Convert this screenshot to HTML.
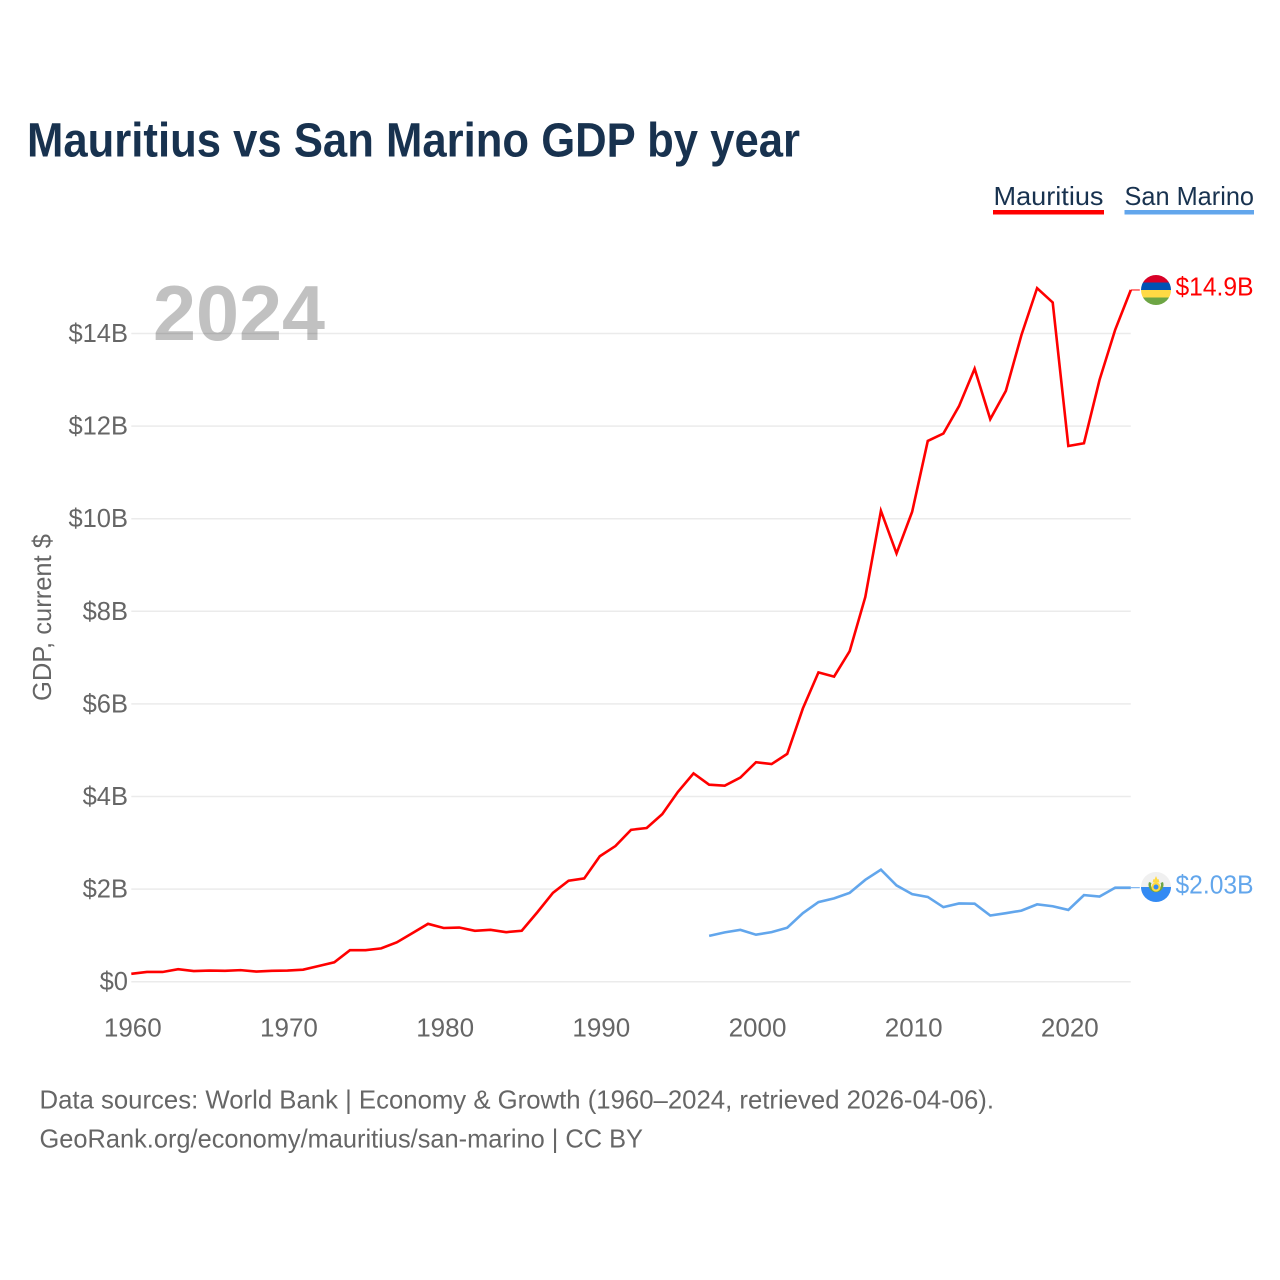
<!DOCTYPE html>
<html lang="en">
<head>
<meta charset="utf-8">
<title>Mauritius vs San Marino GDP by year</title>
<style>
html,body{margin:0;padding:0;background:#fff;width:1280px;height:1280px;overflow:hidden}
svg{display:block}
text{font-family:"Liberation Sans",sans-serif}
</style>
</head>
<body>
<svg id="chart" xmlns="http://www.w3.org/2000/svg" width="1280" height="1280" viewBox="0 0 1280 1280">
  <defs>
    <clipPath id="clip-mu"><circle cx="1156" cy="290" r="15"/></clipPath>
    <clipPath id="clip-sm"><circle cx="1156" cy="887" r="15"/></clipPath>
  </defs>
  <rect width="1280" height="1280" fill="#fff"/>
  <text x="27" y="156.500" font-size="48" font-weight="700" fill="#18324f" textLength="773" lengthAdjust="spacingAndGlyphs">Mauritius vs San Marino GDP by year</text>

  <g>
    <text x="993.500" y="205" font-size="26" fill="#18324f" textLength="110" lengthAdjust="spacingAndGlyphs">Mauritius</text>
    <rect x="993" y="210" width="111" height="4.5" fill="#ff0000"/>
  </g>
  <g>
    <text x="1124.500" y="205" font-size="26" fill="#18324f" textLength="129.500" lengthAdjust="spacingAndGlyphs">San Marino</text>
    <rect x="1124.500" y="210" width="129.500" height="4.5" fill="#62a6ec"/>
  </g>

  <text x="153" y="340" font-size="78" font-weight="700" fill="#c1c1c1" textLength="172" lengthAdjust="spacingAndGlyphs">2024</text>

  <g id="grid"></g>
  <g id="y-ticks"></g>
  <g id="x-ticks"></g>
  <text transform="translate(51 701) rotate(-90)" font-size="26" fill="#666" textLength="167" lengthAdjust="spacingAndGlyphs">GDP, current $</text>

  <g id="series"></g>

  <g clip-path="url(#clip-mu)">
    <rect x="1141" y="275" width="30" height="7.5" fill="#d80027"/>
    <rect x="1141" y="282.500" width="30" height="7.5" fill="#0052b4"/>
    <rect x="1141" y="290" width="30" height="7.5" fill="#ffda44"/>
    <rect x="1141" y="297.500" width="30" height="7.5" fill="#6da544"/>
  </g>
  <g clip-path="url(#clip-sm)">
    <rect x="1141" y="872" width="30" height="15" fill="#f0f0f0"/>
    <rect x="1141" y="887" width="30" height="15" fill="#338af3"/>
    <path d="M1149 882a7.500 7.500 0 1 0 14 0l-2.500 1a5 5 0 1 1-9 0z" fill="#6da544"/>
    <circle cx="1156" cy="887" r="4.6" fill="#ffda44"/>
    <circle cx="1156" cy="887" r="2.500" fill="#338af3"/>
    <path d="M1152.500 882.500l1-3.500 1 0.500 1.500-3.500 1.500 3.500 1-0.500 1 3.500z" fill="#ffda44"/>
  </g>
  <text id="label-mu" x="1175.500" y="295.500" font-size="26" fill="#ff0000" textLength="78" lengthAdjust="spacingAndGlyphs">$14.9B</text>
  <text id="label-sm" x="1175.500" y="893.500" font-size="26" fill="#62a6ec" textLength="78" lengthAdjust="spacingAndGlyphs">$2.03B</text>

  <text x="39.500" y="1108.500" font-size="26" fill="#666" textLength="954.500" lengthAdjust="spacingAndGlyphs">Data sources: World Bank | Economy &amp; Growth (1960–2024, retrieved 2026-04-06).</text>
  <text x="39.500" y="1147.500" font-size="26" fill="#666" textLength="603.500" lengthAdjust="spacingAndGlyphs">GeoRank.org/economy/mauritius/san-marino | CC BY</text>
</svg>
<script>
const mauritiusYears = [1960,1961,1962,1963,1964,1965,1966,1967,1968,1969,1970,1971,1972,1973,1974,1975,1976,1977,1978,1979,1980,1981,1982,1983,1984,1985,1986,1987,1988,1989,1990,1991,1992,1993,1994,1995,1996,1997,1998,1999,2000,2001,2002,2003,2004,2005,2006,2007,2008,2009,2010,2011,2012,2013,2014,2015,2016,2017,2018,2019,2020,2021,2022,2023,2024];
const mauritiusGdp = [0.17,0.21,0.21,0.27,0.23,0.24,0.235,0.25,0.22,0.235,0.24,0.26,0.34,0.42,0.68,0.68,0.72,0.85,1.05,1.25,1.16,1.17,1.10,1.12,1.07,1.10,1.50,1.92,2.18,2.23,2.71,2.93,3.28,3.32,3.62,4.10,4.50,4.255,4.235,4.41,4.74,4.70,4.92,5.90,6.68,6.59,7.14,8.31,10.17,9.25,10.15,11.68,11.84,12.43,13.24,12.15,12.76,13.97,14.98,14.67,11.57,11.63,13.0,14.08,14.94];
const sanMarinoYears = [1997,1998,1999,2000,2001,2002,2003,2004,2005,2006,2007,2008,2009,2010,2011,2012,2013,2014,2015,2016,2017,2018,2019,2020,2021,2022,2023,2024];
const sanMarinoGdp = [0.99,1.065,1.12,1.015,1.07,1.165,1.48,1.72,1.80,1.92,2.20,2.42,2.08,1.89,1.83,1.61,1.69,1.685,1.43,1.48,1.535,1.67,1.63,1.55,1.87,1.84,2.03,2.03];
const yTickValues = [0,2,4,6,8,10,12,14];
const yTickLabels = ['$0','$2B','$4B','$6B','$8B','$10B','$12B','$14B'];
const xTickValues = [1960,1970,1980,1990,2000,2010,2020];
const xTickLabels = ['1960','1970','1980','1990','2000','2010','2020'];

const SVGNS = 'http://www.w3.org/2000/svg';
function xScale(year){ return 131.3 + (year - 1960) * (1130.8 - 131.3) / 64; }
function yScale(v){ return 981.7 - v * 46.3; }
function make(tag, attrs, parent){
  const el = document.createElementNS(SVGNS, tag);
  for (const k in attrs) el.setAttribute(k, attrs[k]);
  parent.appendChild(el);
  return el;
}

const gridG = document.getElementById('grid');
const yG = document.getElementById('y-ticks');
yTickValues.forEach(function(v, i){
  const line = make('line', {x1: xScale(1960), x2: xScale(2024), y1: yScale(v), y2: yScale(v), stroke: '#000', 'stroke-opacity': 0.08, 'stroke-width': 1.5}, gridG);
  
  
  const t = make('text', {x: 128, y: yScale(v) + 8.5, 'text-anchor': 'end', 'font-size': 25.5, fill: '#666'}, yG);
  t.textContent = yTickLabels[i];
  
  
});

const xG = document.getElementById('x-ticks');
xTickValues.forEach(function(y, i){
  const t = make('text', {x: xScale(y) + 1.5, y: 1036.5, 'text-anchor': 'middle', 'font-size': 26, fill: '#666'}, xG);
  t.textContent = xTickLabels[i];
  
  
});

function drawSeries(years, values, color, name){
  const g = document.getElementById('series');
  const pts = years.map(function(y, i){ return xScale(y).toFixed(2) + ',' + yScale(values[i]).toFixed(2); }).join(' ');
  const line = make('polyline', {points: pts, fill: 'none', stroke: color, 'stroke-width': 2.6, 'stroke-linejoin': 'miter'}, g);
  
  
  const lastY = yScale(values[values.length - 1]);
  const lastX = xScale(years[years.length - 1]);
  const leader = make('line', {x1: lastX, x2: lastX + 9, y1: lastY, y2: lastY, stroke: color, 'stroke-width': 1}, g);
  
  
}
drawSeries(mauritiusYears, mauritiusGdp, '#ff0000', 'series-mauritius');
drawSeries(sanMarinoYears, sanMarinoGdp, '#62a6ec', 'series-san-marino');
</script>
</body>
</html>
